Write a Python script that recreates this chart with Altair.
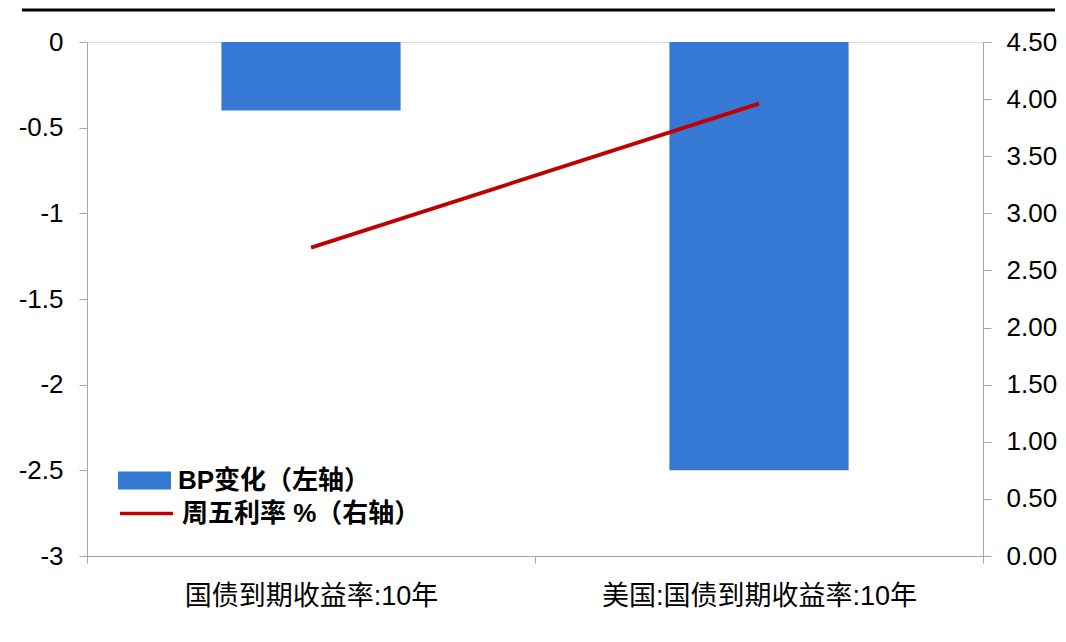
import altair as alt
import pandas as pd

categories = ["国债到期收益率:10年", "美国:国债到期收益率:10年"]
bp_change = [-0.4, -2.5]
friday_rate = [2.70, 3.96]
bar_name = "BP变化（左轴）"
line_name = "周五利率 %（右轴）"
left_ticks = [0, -0.5, -1, -1.5, -2, -2.5, -3]
right_ticks = [0, 0.5, 1, 1.5, 2, 2.5, 3, 3.5, 4, 4.5]

BLUE = "#3579D5"
RED = "#C00000"
GRAY = "#A6A6A6"
FONT = "Liberation Sans, Arial, Noto Sans CJK SC"

df = pd.DataFrame({
    "cat": categories,
    "bp": bp_change,
    "rate": friday_rate,
    "s1": [bar_name] * len(categories),
    "s2": [line_name] * len(categories),
})

x_enc = alt.X(
    "cat:N", sort=categories, title=None,
    scale=alt.Scale(paddingInner=0, paddingOuter=0),
    axis=alt.Axis(labelAngle=0, tickBand="extent", domainColor=GRAY, tickColor=GRAY,
                  tickSize=7, labelFontSize=27, labelFont=FONT, labelColor="#000000",
                  labelPadding=20, labelLimit=0),
)

rect_path = "M-1,-0.34H1V0.34H-1Z"
line_path = "M-1,0H1"

bars = alt.Chart(df).mark_bar(width=alt.RelativeBandSize(0.4)).encode(
    x=x_enc,
    y=alt.Y("bp:Q", title=None,
            scale=alt.Scale(domain=[-3, 0], nice=False, zero=False),
            axis=alt.Axis(values=left_ticks, orient="left", domainColor=GRAY, tickColor=GRAY,
                          tickSize=8, labelPadding=16, labelFontSize=26, labelFont=FONT,
                          labelColor="#000000", grid=False,
                          labelExpr="replace(format(datum.value, '~g'), '\u2212', '-')")),
    color=alt.Color("s1:N", scale=alt.Scale(domain=[bar_name], range=[BLUE]),
                    legend=alt.Legend(title=None, orient="none", legendX=31, legendY=412,
                                      symbolType=rect_path, symbolSize=2809, symbolStrokeWidth=0,
                                      labelFontSize=26, labelFont=FONT, labelFontWeight="bold",
                                      labelColor="#000000", labelOffset=7, labelLimit=0, padding=0)),
)

line = alt.Chart(df).mark_line(strokeWidth=3.8).encode(
    x=x_enc,
    y=alt.Y("rate:Q", title=None,
            scale=alt.Scale(domain=[0, 4.5], nice=False),
            axis=alt.Axis(values=right_ticks, orient="right", format=".2f", domainColor=GRAY,
                          tickColor=GRAY, tickSize=8, labelPadding=15, labelFontSize=26,
                          labelFont=FONT, labelColor="#000000", grid=False)),
    color=alt.Color("s2:N", scale=alt.Scale(domain=[line_name], range=[RED]),
                    legend=alt.Legend(title=None, orient="none", legendX=31, legendY=443,
                                      symbolType=line_path, symbolSize=2809, symbolStrokeWidth=3.5,
                                      labelFontSize=26, labelFont=FONT, labelFontWeight="bold",
                                      labelColor="#000000", labelOffset=7, labelLimit=0, padding=0)),
)

top_rule = alt.Chart(pd.DataFrame({"k": [0]})).mark_rule(color="black", strokeWidth=3).encode(
    x=alt.value(-65), x2=alt.value(968), y=alt.value(-32)
)

chart = alt.layer(bars, line, top_rule).resolve_scale(
    y="independent", color="independent"
).resolve_legend(color="independent").properties(
    width=896, height=514,
    padding={"left": 10, "top": 0, "right": 0, "bottom": 5},
).configure_view(stroke=None).configure(background="white")

chart.save("out.html", embed_options={"renderer": "svg", "actions": False})
